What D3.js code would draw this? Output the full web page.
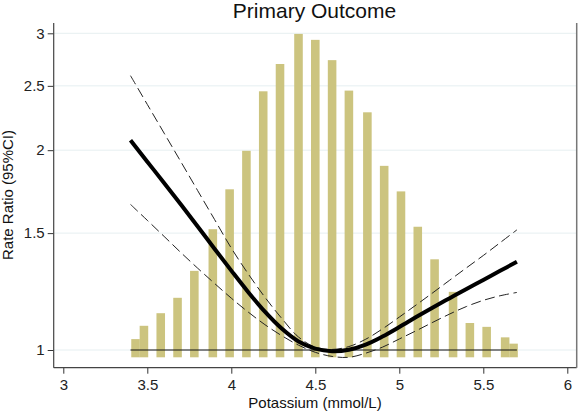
<!DOCTYPE html>
<html>
<head>
<meta charset="utf-8">
<script src="https://cdn.jsdelivr.net/npm/d3@7"></script>
<style>
  html, body { margin: 0; padding: 0; background: #fff; }
  svg { display: block; font-family: "Liberation Sans", Arial, sans-serif; }
</style>
</head>
<body>
<svg id="chart" width="579" height="412"></svg>
<script>
// ---- Data ----
const title = "Primary Outcome";
const xLabel = "Potassium (mmol/L)";
const yLabel = "Rate Ratio (95%CI)";

const xTicks = [3, 3.5, 4, 4.5, 5, 5.5, 6];
const yTicks = [1, 1.5, 2, 2.5, 3];

// Histogram of potassium (percent of patients)
const histX = [3.43, 3.48, 3.58, 3.68, 3.78, 3.89, 3.99, 4.09, 4.19, 4.29, 4.40, 4.50,
               4.60, 4.70, 4.81, 4.91, 5.01, 5.11, 5.21, 5.32, 5.42, 5.52, 5.63, 5.68];
const histPct = [0.52, 0.90, 1.26, 1.70, 2.47, 3.66, 4.80, 5.90, 7.60, 8.38, 9.24, 9.07,
                 8.49, 7.62, 7.00, 5.47, 4.74, 3.73, 2.80, 1.87, 0.98, 0.87, 0.57, 0.39];

// Spline estimate of rate ratio
const potassium = [3.4, 3.5, 3.6, 3.7, 3.8, 3.9, 4.0, 4.1, 4.2, 4.3, 4.4, 4.5,
                   4.6, 4.7, 4.8, 4.9, 5.0, 5.1, 5.2, 5.3, 5.4, 5.5, 5.6, 5.7];
const rr      = [2.070, 1.922, 1.785, 1.656, 1.535, 1.421, 1.317, 1.223, 1.142, 1.077, 1.030, 1.005,
                 0.996, 1.001, 1.019, 1.048, 1.083, 1.121, 1.159, 1.197, 1.236, 1.275, 1.316, 1.358];
const rrUpper = [2.590, 2.344, 2.122, 1.921, 1.738, 1.573, 1.424, 1.303, 1.201, 1.116, 1.046, 1.010,
                 1.002, 1.012, 1.038, 1.076, 1.121, 1.169, 1.220, 1.274, 1.330, 1.388, 1.451, 1.517];
const rrLower = [1.657, 1.568, 1.483, 1.402, 1.328, 1.260, 1.197, 1.141, 1.092, 1.051, 1.017, 0.992,
                 0.978, 0.975, 0.989, 1.010, 1.039, 1.069, 1.101, 1.133, 1.163, 1.188, 1.207, 1.221];

// ---- Layout ----
const svg = d3.select("#chart");
const plot = { left: 53.7, right: 576.7, top: 23, bottom: 367.7 };

const x = d3.scaleLinear().domain([3, 6]).range([63.3, 567.3]);
const y = d3.scaleLog().domain([1, 3]).range([350, 33.3]);
const yBar = d3.scaleLinear().domain([0, 10]).range([357.3, 7.3]);
const barW = x(3.051) - x(3);

// gridlines
svg.append("g").selectAll("line").data(yTicks).join("line")
  .attr("x1", plot.left).attr("x2", plot.right)
  .attr("y1", d => y(d)).attr("y2", d => y(d))
  .attr("stroke", "#e6eff1").attr("stroke-width", 1);

// bars
const bars = histX.map((v, i) => ({ x: v, p: histPct[i] }));
svg.append("g").selectAll("rect").data(bars).join("rect")
  .attr("x", d => x(d.x) - barW / 2)
  .attr("width", barW)
  .attr("y", d => yBar(d.p))
  .attr("height", d => yBar(0) - yBar(d.p))
  .attr("fill", "#ccc47f");

// reference line at RR = 1
svg.append("line")
  .attr("x1", x(potassium[0])).attr("x2", x(potassium[potassium.length - 1]))
  .attr("y1", y(1)).attr("y2", y(1))
  .attr("stroke", "#111").attr("stroke-width", 1);

const line = d3.line()
  .x(d => x(d[0])).y(d => y(d[1]))
  .curve(d3.curveCatmullRom.alpha(0.5));

// CI lines
[rrUpper, rrLower].forEach(arr => {
  svg.append("path")
    .datum(potassium.map((k, i) => [k, arr[i]]))
    .attr("d", line)
    .attr("fill", "none")
    .attr("stroke", "#222")
    .attr("stroke-width", 1)
    .attr("stroke-dasharray", "10,4.5");
});

// main estimate
svg.append("path")
  .datum(potassium.map((k, i) => [k, rr[i]]))
  .attr("d", line)
  .attr("fill", "none")
  .attr("stroke", "#000")
  .attr("stroke-width", 4)
  .attr("stroke-linejoin", "round");

// axes
const yAxis = d3.axisLeft(y).tickValues(yTicks).tickFormat(d3.format("~g"))
  .tickSize(6).tickPadding(3);
const gy = svg.append("g").attr("transform", `translate(${plot.left},0)`).call(yAxis);
gy.select(".domain").remove();

const xAxis = d3.axisBottom(x).tickValues(xTicks).tickFormat(d3.format("~g"))
  .tickSize(6).tickPadding(6);
const gx = svg.append("g").attr("transform", `translate(0,${plot.bottom})`).call(xAxis);
gx.select(".domain").remove();

[gx, gy].forEach(g => {
  g.selectAll("text").attr("font-size", 15).attr("fill", "#222")
    .attr("font-family", "Liberation Sans, Arial, sans-serif");
  g.selectAll(".tick line").attr("stroke", "#333");
});

// frame lines
svg.append("line").attr("x1", plot.left).attr("x2", plot.left)
  .attr("y1", plot.top).attr("y2", plot.bottom).attr("stroke", "#444").attr("stroke-width", 1.2);
svg.append("line").attr("x1", plot.left).attr("x2", plot.right)
  .attr("y1", plot.bottom).attr("y2", plot.bottom).attr("stroke", "#444").attr("stroke-width", 1.2);
svg.append("line").attr("x1", plot.right).attr("x2", plot.right)
  .attr("y1", plot.top).attr("y2", plot.bottom).attr("stroke", "#777").attr("stroke-width", 1.5);

// titles
svg.append("text").attr("x", 314.5).attr("y", 17.5)
  .attr("text-anchor", "middle").attr("font-size", 21).attr("fill", "#111").text(title);
svg.append("text").attr("x", 315).attr("y", 408)
  .attr("text-anchor", "middle").attr("font-size", 15).attr("fill", "#111").text(xLabel);
svg.append("text").attr("transform", "translate(13,195) rotate(-90)")
  .attr("text-anchor", "middle").attr("font-size", 15).attr("fill", "#111").text(yLabel);
</script>
</body>
</html>
